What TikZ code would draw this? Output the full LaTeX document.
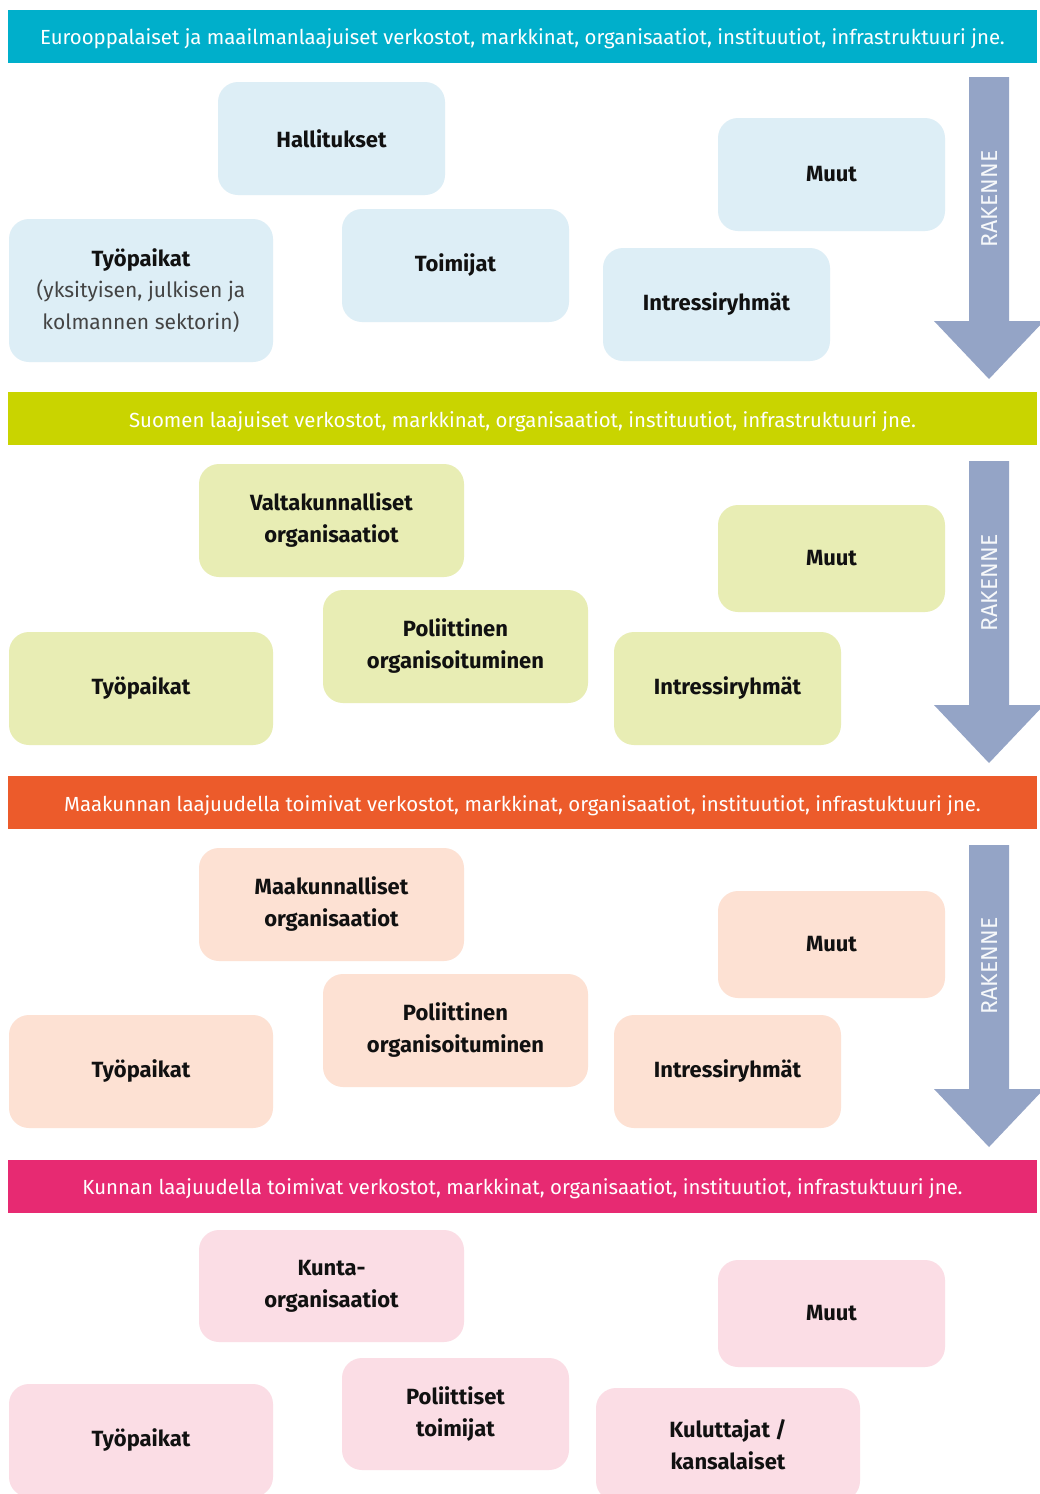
\documentclass[tikz,border=0pt]{standalone}
\usepackage{fontspec}
\setmainfont{Fira Sans}
\definecolor{barA}{HTML}{00AFCB}
\definecolor{barB}{HTML}{C9D400}
\definecolor{barC}{HTML}{EC5B2B}
\definecolor{barD}{HTML}{E72A72}
\definecolor{boxA}{HTML}{DDEEF6}
\definecolor{boxB}{HTML}{E8EDB4}
\definecolor{boxC}{HTML}{FDE1D3}
\definecolor{boxD}{HTML}{FBDDE5}
\definecolor{arrowc}{HTML}{94A4C6}
\definecolor{txt}{HTML}{111111}
\definecolor{subtxt}{HTML}{444444}
\begin{document}
\begin{tikzpicture}[x=1pt,y=-1pt,
  box/.style={rounded corners=20pt, inner sep=0pt, align=center, text=txt,
    font=\bfseries\fontsize{22}{32}\selectfont},
  bar/.style={inner sep=0pt, text=white, minimum width=1029pt, minimum height=53pt,
    text height=19pt, text depth=2pt,
    font=\fontsize{20.4}{24}\selectfont},
  rak/.style={text=white!92!arrowc, rotate=90, font=\fontsize{23}{24}\selectfont, inner sep=0pt}
]
\clip (0,0) rectangle (1040,1494);
\fill[white] (0,0) rectangle (1040,1494);

% bars
\node[bar, fill=barA] (barA) at (522.5,36) {Eurooppalaiset ja maailmanlaajuiset verkostot, markkinat, organisaatiot, instituutiot, infrastruktuuri jne.};
\node[bar, fill=barB] (barB) at (522.5,418.5) {Suomen laajuiset verkostot, markkinat, organisaatiot, instituutiot, infrastruktuuri jne.};
\node[bar, fill=barC] (barC) at (522.5,802.5) {Maakunnan laajuudella toimivat verkostot, markkinat, organisaatiot, instituutiot, infrastuktuuri jne.};
\node[bar, fill=barD] (barD) at (522.5,1186) {Kunnan laajuudella toimivat verkostot, markkinat, organisaatiot, instituutiot, infrastuktuuri jne.};

% arrows
\foreach \t/\n in {77/1,461/2,845/3}{
  \fill[arrowc] (969,\t) -- (1009,\t) -- (1009,\t+244) -- (1044,\t+244) -- (989,\t+302) -- (934,\t+244) -- (969,\t+244) -- cycle;
}
\node[rak] (r1) at (990,199) {RAKENNE};
\node[rak] (r2) at (990,583) {RAKENNE};
\node[rak] (r3) at (990,966) {RAKENNE};

% section 1
\node[box, fill=boxA, minimum width=227pt, minimum height=113pt] (h1) at (331.5,138.5) {Hallitukset};
\node[box, fill=boxA, minimum width=227pt, minimum height=113pt] (m1) at (831.5,174.5) {Muut};
\node[box, fill=boxA, minimum width=264pt, minimum height=143pt] (w1) at (141,290.5) {Työpaikat\\[-1pt]{\mdseries\color{subtxt}\fontsize{21}{32}\selectfont(yksityisen, julkisen ja}\\{\mdseries\color{subtxt}\fontsize{21}{32}\selectfont kolmannen sektorin)}};
\node[box, fill=boxA, minimum width=227pt, minimum height=113pt] (t1) at (455.5,265.5) {Toimijat};
\node[box, fill=boxA, minimum width=227pt, minimum height=113pt] (i1) at (716.5,304.5) {Intressiryhmät};

% section 2
\node[box, fill=boxB, minimum width=265pt, minimum height=113pt] (v2) at (331.5,520.5) {Valtakunnalliset\\organisaatiot};
\node[box, fill=boxB, minimum width=227pt, minimum height=107pt] (m2) at (831.5,558.5) {Muut};
\node[box, fill=boxB, minimum width=264pt, minimum height=113pt] (w2) at (141,688.5) {Työpaikat};
\node[box, fill=boxB, minimum width=265pt, minimum height=113pt] (p2) at (455.5,646.5) {Poliittinen\\organisoituminen};
\node[box, fill=boxB, minimum width=227pt, minimum height=113pt] (i2) at (727.5,688.5) {Intressiryhmät};

% section 3
\node[box, fill=boxC, minimum width=265pt, minimum height=113pt] (k3) at (331.5,904.5) {Maakunnalliset\\organisaatiot};
\node[box, fill=boxC, minimum width=227pt, minimum height=107pt] (m3) at (831.5,944.5) {Muut};
\node[box, fill=boxC, minimum width=264pt, minimum height=113pt] (w3) at (141,1071.5) {Työpaikat};
\node[box, fill=boxC, minimum width=265pt, minimum height=113pt] (p3) at (455.5,1030.5) {Poliittinen\\organisoituminen};
\node[box, fill=boxC, minimum width=227pt, minimum height=113pt] (i3) at (727.5,1071.5) {Intressiryhmät};

% section 4
\node[box, fill=boxD, minimum width=265pt, minimum height=112pt] (k4) at (331.5,1286) {Kunta-\\organisaatiot};
\node[box, fill=boxD, minimum width=227pt, minimum height=107pt] (m4) at (831.5,1313.5) {Muut};
\node[box, fill=boxD, minimum width=264pt, minimum height=113pt] (w4) at (141,1440.5) {Työpaikat};
\node[box, fill=boxD, minimum width=227pt, minimum height=112pt] (p4) at (455.5,1414) {Poliittiset\\toimijat};
\node[box, fill=boxD, minimum width=264pt, minimum height=113pt] (c4) at (728,1444.5) {Kuluttajat /\\kansalaiset};
\end{tikzpicture}
\end{document}
